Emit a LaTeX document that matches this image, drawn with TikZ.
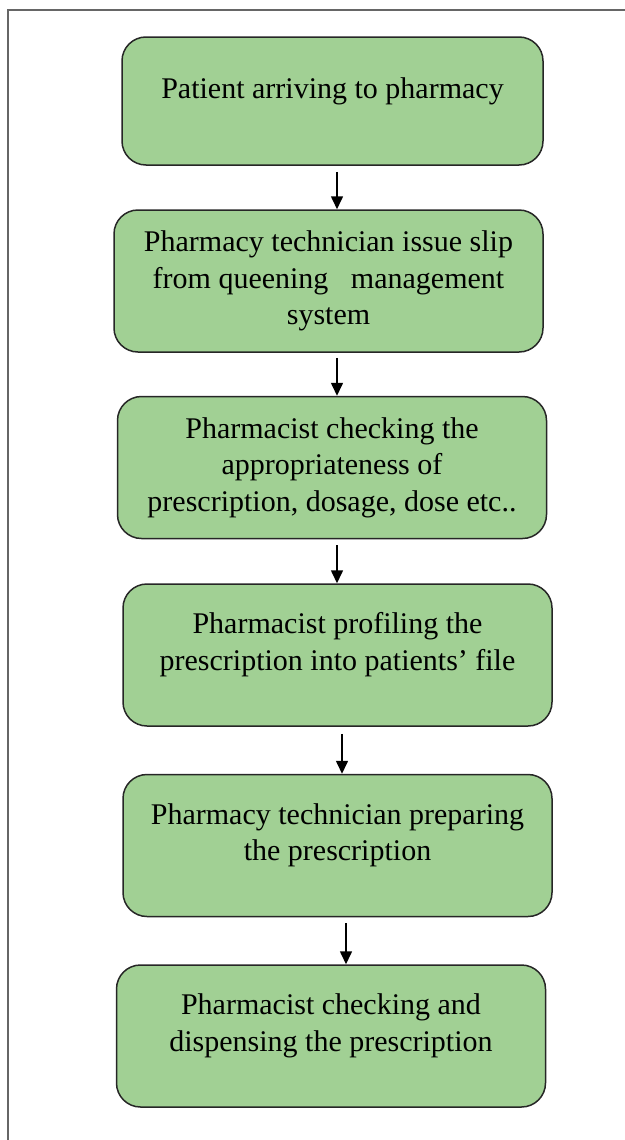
\documentclass[tikz,border=0pt]{standalone}
\usepackage{fontspec}
\setmainfont{Liberation Serif}
\usetikzlibrary{calc,positioning,arrows.meta}
\definecolor{boxgreen}{RGB}{161,208,148}
\tikzset{
  stepbox/.style={draw=black!85,fill=boxgreen,line width=0.75pt,rounded corners=12pt,
    align=center,inner sep=0pt,minimum width=214.5pt,minimum height=71pt,
    font=\fontsize{15}{18.3}\selectfont},
  flow/.style={-{Triangle[width=6pt,length=6.5pt]},line width=0.8pt},
}
\newcommand{\lift}{\\[-5pt]\mbox{}}

\begin{document}
\begin{tikzpicture}[x=0.5pt,y=-0.5pt]
  \useasboundingbox (0,0) rectangle (625,1140);

  % Frame
  \draw[black!60,line width=0.6pt] (625,10) -- (8,10) -- (8,1140);

  % Steps
  \node[stepbox,minimum width=210.5pt,minimum height=64pt] (arrive) at (332.5,101) {Patient arriving to pharmacy\lift};
  \node[stepbox] (slip) at (328.5,281) {Pharmacy technician issue slip\\from queening\ \ \ management\\system};
  \node[stepbox] (check) at (332,467.5) {Pharmacist checking the\\appropriateness of\\prescription, dosage, dose etc..};
  \node[stepbox] (profile) at (337.5,655) {Pharmacist profiling the\\prescription into patients' file\lift};
  \node[stepbox] (prepare) at (337.5,845.5) {Pharmacy technician preparing\\the prescription\lift};
  \node[stepbox] (dispense) at (331,1036) {Pharmacist checking and\\dispensing the prescription\lift};

  % Arrows
  \draw[flow] ($(arrive.south)+(4.5,6)$) -- ($(arrive.south |- slip.north)+(4.5,0)$);
  \draw[flow] ($(slip.south)+(8.5,5)$) -- ($(slip.south |- check.north)+(8.5,0)$);
  \draw[flow] ($(check.south)+(5,6)$) -- ($(check.south |- profile.north)+(5,0)$);
  \draw[flow] ($(profile.south)+(4.5,7)$) -- ($(profile.south |- prepare.north)+(4.5,0)$);
  \draw[flow] ($(prepare.south)+(8.5,6)$) -- ($(prepare.south |- dispense.north)+(8.5,0)$);

\end{tikzpicture}
\end{document}
